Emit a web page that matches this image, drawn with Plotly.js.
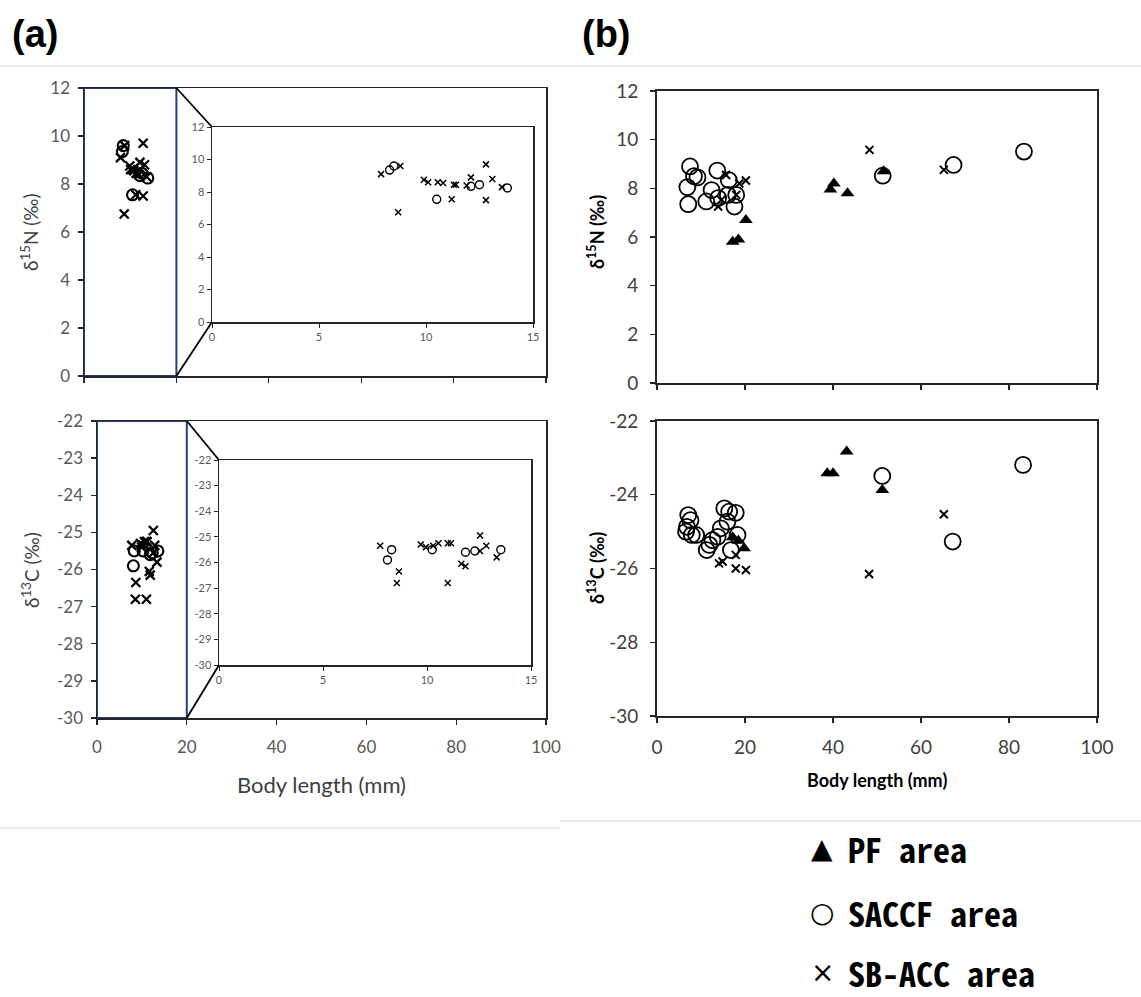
<!DOCTYPE html>
<html>
<head>
<meta charset="utf-8">
<script src="https://cdn.plot.ly/plotly-3.0.1.min.js"></script>
<style>html,body{margin:0;padding:0;background:#fff}#chart{width:1141px;height:997px}</style>
</head>
<body>
<div id="chart"></div>
<script>
// ---------- DATA ----------
// Panel (a): small individuals (main panel 0-100 and zoomed inset 0-15 show the same points)
const aN_SACCF_x = [8.3, 8.5, 10.5, 12.1, 12.5, 13.8];
const aN_SACCF_y = [9.35, 9.6, 7.55, 8.35, 8.45, 8.25];
const aN_SBACC_x = [7.9, 8.8, 8.7, 9.9, 10.1, 10.55, 10.8, 11.2, 11.3, 11.4, 11.9, 12.1, 12.8, 12.8, 13.1, 13.55];
const aN_SBACC_y = [9.1, 9.6, 6.75, 8.75, 8.6, 8.6, 8.55, 7.55, 8.45, 8.45, 8.4, 8.9, 9.7, 7.5, 8.8, 8.3];

const aC_SACCF_x = [8.3, 8.1, 10.25, 11.85, 12.3, 13.55];
const aC_SACCF_y = [-25.5, -25.9, -25.5, -25.6, -25.55, -25.5];
const aC_SBACC_x = [7.75, 8.65, 8.55, 9.7, 9.95, 10.3, 10.55, 11.0, 11.15, 11.0, 11.65, 11.85, 12.55, 12.55, 12.85, 13.35];
const aC_SBACC_y = [-25.35, -26.35, -26.8, -25.3, -25.4, -25.35, -25.25, -25.25, -25.25, -26.8, -26.05, -26.15, -24.95, -25.55, -25.35, -25.8];

// Panel (b)
const bN_PF_x = [17.2, 18.5, 20.2, 39.4, 40.2, 43.3, 51.5];
const bN_PF_y = [5.8, 5.9, 6.7, 7.95, 8.2, 7.8, 8.7];
const bN_SACCF_x = [7.5, 8.4, 6.9, 7.1, 9.2, 11.2, 12.4, 13.7, 16.3, 16.1, 18.0, 17.6, 13.9, 51.3, 67.4, 83.4];
const bN_SACCF_y = [8.9, 8.5, 8.05, 7.35, 8.45, 7.46, 7.93, 8.73, 8.34, 7.73, 7.73, 7.25, 7.6, 8.52, 8.96, 9.51];
const bN_SBACC_x = [13.9, 14.6, 15.7, 18.7, 20.2, 18.0, 48.3, 65.2];
const bN_SBACC_y = [7.25, 7.52, 8.55, 8.2, 8.32, 7.73, 9.58, 8.76];

const bC_PF_x = [17.2, 18.5, 19.8, 38.7, 40.0, 43.1, 51.2];
const bC_PF_y = [-25.15, -25.25, -25.45, -23.42, -23.42, -22.83, -23.87];
const bC_SACCF_x = [7.1, 7.6, 6.8, 6.6, 7.9, 8.9, 11.3, 11.9, 12.6, 13.8, 14.5, 15.3, 16.4, 17.9, 16.0, 16.8, 18.3, 51.2, 67.2, 83.2];
const bC_SACCF_y = [-24.55, -24.69, -24.87, -25.0, -25.09, -25.09, -25.5, -25.36, -25.23, -25.14, -24.91, -24.37, -24.46, -24.49, -24.73, -25.5, -25.09, -23.49, -25.27, -23.19];
const bC_SBACC_x = [14.1, 14.9, 17.9, 20.2, 17.9, 48.2, 65.2];
const bC_SBACC_y = [-25.86, -25.81, -26.0, -26.04, -25.63, -26.15, -24.53];

// tick labels
const nTickVals = [0, 2, 4, 6, 8, 10, 12];
const nTickText = ['0', '2', '4', '6', '8', '10', '12'];
const cTickValsA = [-30, -29, -28, -27, -26, -25, -24, -23, -22];
const cTickTextA = ['-30', '-29', '-28', '-27', '-26', '-25', '-24', '-23', '-22'];
const cTickValsB = [-30, -28, -26, -24, -22];
const cTickTextB = ['-30', '-28', '-26', '-24', '-22'];

const legendLabels = ['PF area', 'SACCF area', 'SB-ACC area'];
const legendSymbols = ['\u25B2', '\u25CB', '\u00D7'];

// ---------- LAYOUT HELPERS ----------
const W = 1141, H = 997;
const fx = p => p / W;
const fy = p => 1 - p / H;
const dom = (a, b, vertical) => vertical ? [fy(b), fy(a)] : [fx(a), fx(b)];

function mk(sym, size, lw, filled) {
  return filled
    ? {symbol: sym, size: size, color: '#000', line: {width: 0}}
    : {symbol: sym, size: size, color: '#000', line: {width: lw, color: '#000'}};
}
function tr(x, y, xa, ya, marker, name) {
  return {type: 'scatter', mode: 'markers', x: x, y: y, xaxis: xa, yaxis: ya,
          marker: marker, name: name, showlegend: false, hoverinfo: 'x+y', cliponaxis: false};
}

const traces = [
  // (a) top main
  tr(aN_SBACC_x, aN_SBACC_y, 'x', 'y', mk('x-thin-open', 9, 2.3), 'SB-ACC area'),
  tr(aN_SACCF_x, aN_SACCF_y, 'x', 'y', mk('circle-open', 11, 2.1), 'SACCF area'),
  // (a) top inset
  tr(aN_SBACC_x, aN_SBACC_y, 'x2', 'y2', mk('x-thin-open', 6, 1.5), 'SB-ACC area'),
  tr(aN_SACCF_x, aN_SACCF_y, 'x2', 'y2', mk('circle-open', 8, 1.4), 'SACCF area'),
  // (a) bottom main
  tr(aC_SBACC_x, aC_SBACC_y, 'x3', 'y3', mk('x-thin-open', 9, 2.3), 'SB-ACC area'),
  tr(aC_SACCF_x, aC_SACCF_y, 'x3', 'y3', mk('circle-open', 11, 2.1), 'SACCF area'),
  // (a) bottom inset
  tr(aC_SBACC_x, aC_SBACC_y, 'x4', 'y4', mk('x-thin-open', 6, 1.5), 'SB-ACC area'),
  tr(aC_SACCF_x, aC_SACCF_y, 'x4', 'y4', mk('circle-open', 8, 1.4), 'SACCF area'),
  // (b) top
  tr(bN_SACCF_x, bN_SACCF_y, 'x5', 'y5', mk('circle-open', 16, 1.8), 'SACCF area'),
  tr(bN_SBACC_x, bN_SBACC_y, 'x5', 'y5', mk('x-thin-open', 8, 2), 'SB-ACC area'),
  tr(bN_PF_x, bN_PF_y, 'x5', 'y5', mk('triangle-up', 12, 0, true), 'PF area'),
  // (b) bottom
  tr(bC_SACCF_x, bC_SACCF_y, 'x6', 'y6', mk('circle-open', 16, 1.8), 'SACCF area'),
  tr(bC_SBACC_x, bC_SBACC_y, 'x6', 'y6', mk('x-thin-open', 8, 2), 'SB-ACC area'),
  tr(bC_PF_x, bC_PF_y, 'x6', 'y6', mk('triangle-up', 12, 0, true), 'PF area')
];

const FONT = 'Lato, "Open Sans", sans-serif';
function ax(domain, range, dtick, opts) {
  return Object.assign({
    domain: domain, range: range, dtick: dtick,
    showgrid: false, zeroline: false, showline: true, mirror: true,
    linecolor: '#262626', linewidth: 1.5, ticks: 'outside', ticklen: 5, tickwidth: 1.3, tickcolor: '#262626',
    tickfont: {family: FONT, size: 17, color: '#595959'}, fixedrange: true
  }, opts || {});
}
const arr = (v, t) => ({tickmode: 'array', tickvals: v, ticktext: t});
const SMALL = {family: FONT, size: 11, color: '#595959'};
const BFONT = {family: FONT, size: 19, color: '#404040'};

const layout = {
  width: W, height: H, margin: {l: 0, r: 0, t: 0, b: 0},
  paper_bgcolor: '#fff', plot_bgcolor: 'rgba(0,0,0,0)', showlegend: false,
  // (a) top main
  xaxis: ax(dom(84, 546), [0, 100], 20, {anchor: 'y', showticklabels: false}),
  yaxis: ax(dom(88, 376, true), [0, 12], 2, Object.assign({anchor: 'x', ticklabelstandoff: 4}, arr(nTickVals, nTickText))),
  // (a) top inset
  xaxis2: ax(dom(212, 533), [0, 15], 5, {anchor: 'y2', ticklen: 4, tickwidth: 1, tickfont: SMALL}),
  yaxis2: ax(dom(127, 322, true), [0, 12], 2, Object.assign({anchor: 'x2', ticklen: 4, tickwidth: 1, tickfont: SMALL}, arr(nTickVals, nTickText))),
  // (a) bottom main
  xaxis3: ax(dom(97, 546), [0, 100], 20, {anchor: 'y3', ticklabelstandoff: 8}),
  yaxis3: ax(dom(421, 718, true), [-30, -22], 1, Object.assign({anchor: 'x3', ticklabelstandoff: 4}, arr(cTickValsA, cTickTextA))),
  // (a) bottom inset
  xaxis4: ax(dom(219, 531), [0, 15], 5, {anchor: 'y4', ticklen: 4, tickwidth: 1, tickfont: SMALL}),
  yaxis4: ax(dom(460, 665, true), [-30, -22], 1, Object.assign({anchor: 'x4', ticklen: 4, tickwidth: 1, tickfont: SMALL}, arr(cTickValsA, cTickTextA))),
  // (b) top
  xaxis5: ax(dom(657, 1097), [0, 100], 20, {anchor: 'y5', showticklabels: false, linewidth: 1.8}),
  yaxis5: ax(dom(91, 383, true), [0, 12], 2, Object.assign({anchor: 'x5', linewidth: 1.8, ticklabelstandoff: 8, tickfont: BFONT}, arr(nTickVals, nTickText))),
  // (b) bottom
  xaxis6: ax(dom(657, 1097), [0, 100], 20, {anchor: 'y6', linewidth: 1.8, ticklabelstandoff: 8, tickfont: BFONT}),
  yaxis6: ax(dom(421, 716, true), [-30, -22], 2, Object.assign({anchor: 'x6', linewidth: 1.8, ticklabelstandoff: 8, tickfont: BFONT}, arr(cTickValsB, cTickTextB))),
  shapes: [],
  annotations: []
};

// zoom-box rectangles on panel (a) main plots
const BLUE = '#24407a';
layout.shapes.push({type: 'rect', xref: 'x', yref: 'y', x0: 0, x1: 20, y0: 0, y1: 12, line: {color: BLUE, width: 2}, layer: 'above'});
layout.shapes.push({type: 'rect', xref: 'x3', yref: 'y3', x0: 0, x1: 20, y0: -30, y1: -22, line: {color: BLUE, width: 2}, layer: 'above'});

// connector lines from zoom box to inset (paper coords from axis domains)
function toPaper(axis, v) { const d = axis.domain, r = axis.range; return d[0] + (v - r[0]) / (r[1] - r[0]) * (d[1] - d[0]); }
function conn(mx, my, ix, iy, boxX, yTop, yBot) {
  const x0 = toPaper(mx, boxX);
  layout.shapes.push({type: 'line', xref: 'paper', yref: 'paper', x0: x0, y0: toPaper(my, yTop), x1: ix.domain[0], y1: iy.domain[1], line: {color: '#000', width: 1.8}});
  layout.shapes.push({type: 'line', xref: 'paper', yref: 'paper', x0: x0, y0: toPaper(my, yBot), x1: ix.domain[0], y1: iy.domain[0], line: {color: '#000', width: 1.8}});
}
conn(layout.xaxis, layout.yaxis, layout.xaxis2, layout.yaxis2, 20, 12, 0);
conn(layout.xaxis3, layout.yaxis3, layout.xaxis4, layout.yaxis4, 20, -22, -30);

// separators
const SEP = '#d9d9d9';
layout.shapes.push({type: 'line', xref: 'paper', yref: 'paper', x0: 0, x1: 1, y0: fy(66), y1: fy(66), line: {color: SEP, width: 1.2}});
layout.shapes.push({type: 'line', xref: 'paper', yref: 'paper', x0: 0, x1: fx(560), y0: fy(828), y1: fy(828), line: {color: SEP, width: 1.2}});
layout.shapes.push({type: 'line', xref: 'paper', yref: 'paper', x0: fx(560), x1: 1, y0: fy(821), y1: fy(821), line: {color: SEP, width: 1.2}});

function ann(text, px, py, font, extra) {
  layout.annotations.push(Object.assign({text: text, xref: 'paper', yref: 'paper', x: fx(px), y: fy(py),
    xanchor: 'center', yanchor: 'middle', showarrow: false, font: font}, extra || {}));
}
const PANEL_FONT = {family: '"Liberation Sans Narrow", "Arial Narrow", "Liberation Sans", sans-serif', size: 38, color: '#000', weight: 'bold'};
ann('(a)', 35, 34, PANEL_FONT);
ann('(b)', 606, 34, PANEL_FONT);

const TITLE_A = {family: FONT, size: 19, color: '#404040'};
const TITLE_B = {family: FONT, size: 18, color: '#000', weight: 'bold'};
ann('δ<sup>15</sup>N (‰)', 30, 232, TITLE_A, {textangle: -90});
ann('δ<sup>13</sup>C (‰)', 30, 570, TITLE_A, {textangle: -90});
ann('Body length (mm)', 321, 784, {family: FONT, size: 22, color: '#404040'});
ann('δ<sup>15</sup>N (‰)', 596, 232, TITLE_B, {textangle: -90});
ann('δ<sup>13</sup>C (‰)', 596, 568, TITLE_B, {textangle: -90});
ann('Body length (mm)', 877, 780, {family: FONT, size: 18, color: '#000', weight: 'bold'});

// legend (text symbols as in original)
const LEG_FONT = {family: '"Noto Sans Mono CJK JP", "Liberation Mono", "DejaVu Sans Mono", monospace', size: 34, color: '#000', weight: 'bold'};
const LEG_SYM = {family: '"DejaVu Sans", sans-serif', size: 28, color: '#000'};
const legY = [848, 912, 972];
legendLabels.forEach((lab, i) => {
  ann(legendSymbols[i], 822, legY[i], LEG_SYM);
  ann(lab, 846, legY[i], LEG_FONT, {xanchor: 'left'});
});

Plotly.newPlot('chart', traces, layout, {staticPlot: true, displayModeBar: false});
</script>
</body>
</html>
